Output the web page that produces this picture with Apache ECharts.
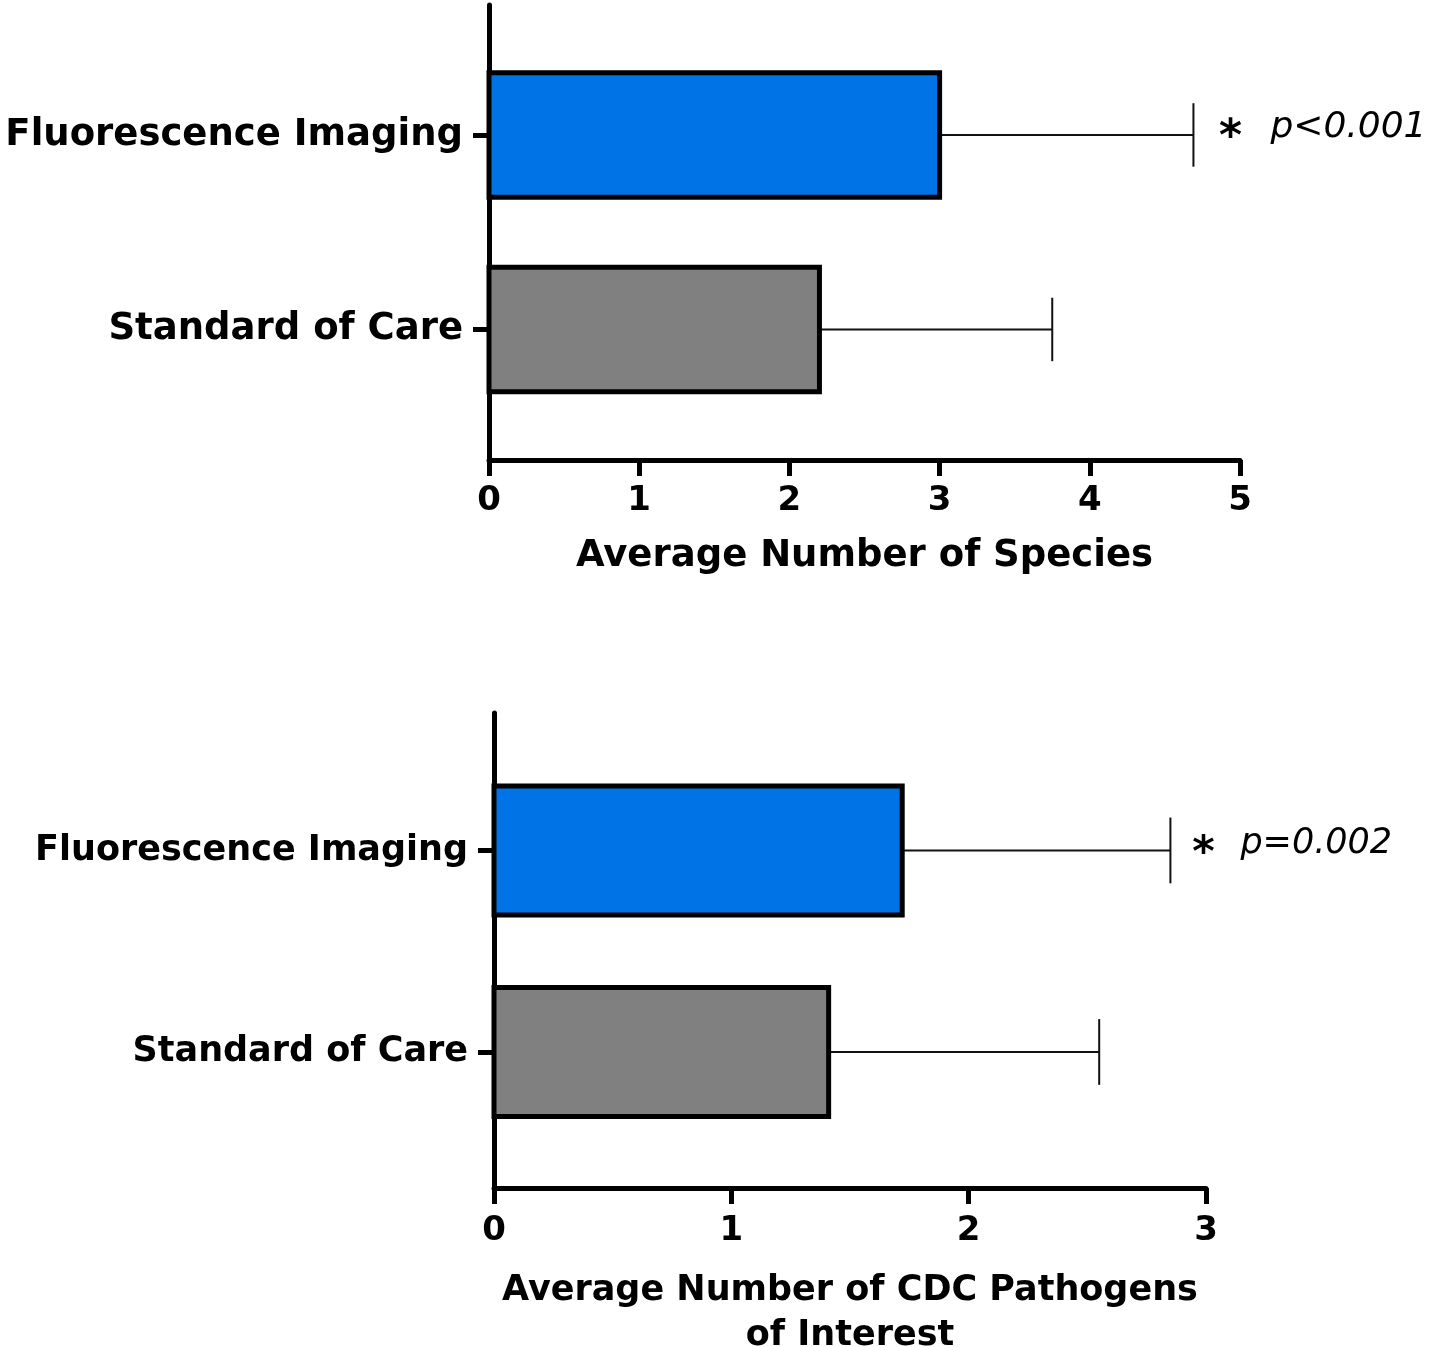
<!DOCTYPE html>
<html>
<head>
<meta charset="utf-8">
<script src="https://cdn.jsdelivr.net/npm/echarts@6/dist/echarts.min.js"></script>
<style>
html,body{margin:0;padding:0;background:#fff;}
#chart{width:1429px;height:1347px;}
</style>
</head>
<body>
<div id="chart"></div>
<script>
// ---- data ----
const categories = ['Fluorescence Imaging', 'Standard of Care'];
const categoryPos = [0, 1];
const barColors = ['#0074E6', '#808080'];
const speciesMean = [3.00, 2.20];
const speciesUpper = [4.69, 3.75];
const pathogenMean = [1.72, 1.41];
const pathogenUpper = [2.85, 2.55];
const speciesTicks = [0, 1, 2, 3, 4, 5];
const pathogenTicks = [0, 1, 2, 3];
const speciesP = ['p<0.001', ''];
const pathogenP = ['p=0.002', ''];

const FONT = '"DejaVu Sans", "Liberation Sans", Arial, sans-serif';
const BAR_H = 0.64;

function seriesData(mean, upper, pvals) {
  return categoryPos.map((p, i) => ({ value: [mean[i], upper[i], p, i], pText: pvals[i] }));
}

function makeRender(pvals, starDx, pDx, fs) {
  return function (params, api) {
    const v = api.value(0), up = api.value(1), pos = api.value(2), i = api.value(3);
    const p0 = api.coord([0, pos]);
    const p1 = api.coord([v, pos]);
    const p2 = api.coord([up, pos]);
    const h = Math.abs(api.size([0, BAR_H])[1]);
    const cap = h * 0.255;
    const children = [
      { type: 'line', shape: { x1: p1[0], y1: p1[1], x2: p2[0], y2: p2[1] }, style: { stroke: '#111', lineWidth: 2 } },
      { type: 'line', shape: { x1: p2[0], y1: p2[1] - cap, x2: p2[0], y2: p2[1] + cap }, style: { stroke: '#111', lineWidth: 2 } },
      { type: 'rect', shape: { x: p0[0], y: p0[1] - h / 2, width: p1[0] - p0[0], height: h },
        style: { fill: barColors[i], stroke: '#000', lineWidth: 5 } }
    ];
    if (pvals[i]) {
      children.push({ type: 'text', x: p2[0] + starDx, y: p2[1] + 4,
        style: { text: '*', font: 'bold ' + (fs + 8) + 'px ' + FONT, fill: '#000', align: 'center', verticalAlign: 'middle' } });
      children.push({ type: 'text', x: p2[0] + pDx, y: p2[1] - 7,
        style: { text: pvals[i], font: 'italic ' + fs + 'px ' + FONT, fill: '#000', align: 'left', verticalAlign: 'middle' } });
    }
    return { type: 'group', children };
  };
}

function yAxisCfg(gi, min, max, fs) {
  return {
    gridIndex: gi, type: 'value', inverse: true, min: min, max: max,
    axisLine: { show: true, onZero: false, lineStyle: { color: '#000', width: 5 } },
    axisTick: { show: true, length: 16, lineStyle: { color: '#000', width: 5 }, customValues: categoryPos },
    axisLabel: { show: true, margin: 26, customValues: categoryPos,
      formatter: v => categories[Math.round(v)] || '',
      color: '#000', fontFamily: FONT, fontWeight: 'bold', fontSize: fs },
    splitLine: { show: false }
  };
}

function xAxisCfg(gi, ticks, name, nameGap, fs, labelMargin) {
  return {
    gridIndex: gi, type: 'value', min: ticks[0], max: ticks[ticks.length - 1], interval: 1,
    name: name, nameLocation: 'middle', nameGap: nameGap,
    nameTextStyle: { color: '#000', fontFamily: FONT, fontWeight: 'bold', fontSize: fs, lineHeight: 45, verticalAlign: 'top' },
    axisLine: { show: true, onZero: false, lineStyle: { color: '#000', width: 5 } },
    axisTick: { show: true, length: 16, lineStyle: { color: '#000', width: 5 } },
    axisLabel: { margin: labelMargin, color: '#000', fontFamily: FONT, fontWeight: 'bold', fontSize: 34 },
    splitLine: { show: false }
  };
}

const chart = echarts.init(document.getElementById('chart'), null, { renderer: 'canvas' });
chart.setOption({
  animation: false,
  backgroundColor: '#fff',
  grid: [
    { left: 489, top: 5, width: 751, height: 455, containLabel: false, outerBoundsMode: 'none' },
    { left: 494, top: 713, width: 712, height: 475, containLabel: false, outerBoundsMode: 'none' }
  ],
  xAxis: [
    xAxisCfg(0, speciesTicks, 'Average Number of Species', 74, 37, 24),
    xAxisCfg(1, pathogenTicks, 'Average Number of CDC Pathogens\nof Interest', 80, 35, 26)
  ],
  yAxis: [
    yAxisCfg(0, -0.668, 1.671, 37),
    yAxisCfg(1, -0.682, 1.675, 35)
  ],
  series: [
    { type: 'custom', xAxisIndex: 0, yAxisIndex: 0, clip: false,
      renderItem: makeRender(speciesP, 37, 77, 36), data: seriesData(speciesMean, speciesUpper, speciesP) },
    { type: 'custom', xAxisIndex: 1, yAxisIndex: 1, clip: false,
      renderItem: makeRender(pathogenP, 33, 70, 35), data: seriesData(pathogenMean, pathogenUpper, pathogenP) }
  ]
});
</script>
</body>
</html>
